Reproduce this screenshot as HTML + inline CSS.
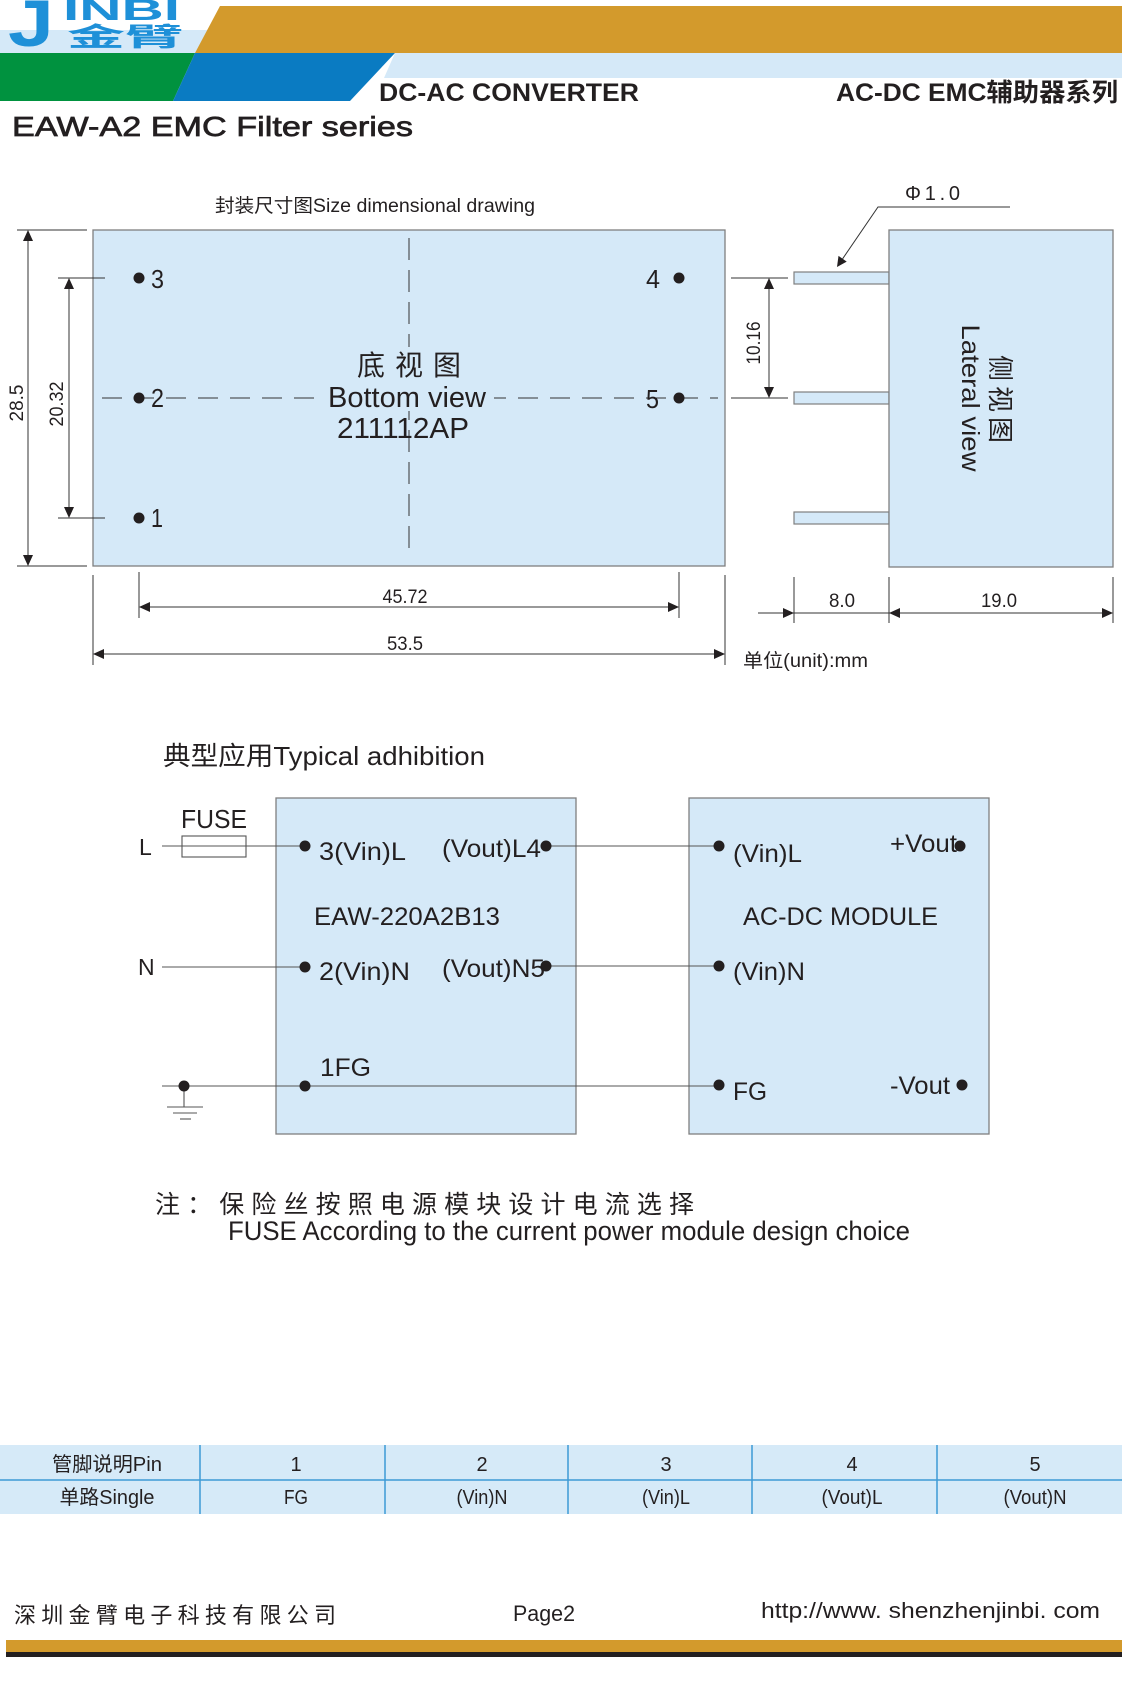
<!DOCTYPE html>
<html><head><meta charset="utf-8"><style>
html,body{margin:0;padding:0;background:#fff;}
svg{display:block;}
text{font-family:"Liberation Sans","Noto Sans CJK SC",sans-serif;fill:#231f20;}
</style></head><body>
<svg width="1122" height="1693" viewBox="0 0 1122 1693" xmlns="http://www.w3.org/2000/svg">
<rect x="0" y="0" width="1122" height="1693" fill="#fff"/>
<!-- Header -->
<rect x="0" y="30" width="230" height="23" fill="#d5e9f8"/>
<polygon points="220,6 1122,6 1122,53 195,53" fill="#d39a2c"/>
<polygon points="0,53 195,53 173,101 0,101" fill="#00923f"/>
<polygon points="195,53 395,53 350,101 173,101" fill="#0a7bc2"/>
<polygon points="395,53 1122,53 1122,78 384,78" fill="#d5e9f8"/>
<text x="8" y="46" font-size="66" font-weight="bold" textLength="46" lengthAdjust="spacingAndGlyphs" style="fill:#1e90d8">J</text>
<text x="63" y="20" font-size="30" font-weight="bold" textLength="117" lengthAdjust="spacingAndGlyphs" style="fill:#1e90d8">INBI</text>
<text x="67" y="46" font-size="26" font-weight="bold" textLength="116" lengthAdjust="spacingAndGlyphs" style="fill:#1e90d8">金臂</text>
<text x="379" y="101" font-size="25" font-weight="bold" textLength="260" lengthAdjust="spacingAndGlyphs">DC-AC CONVERTER</text>
<text x="836" y="101" font-size="25" font-weight="bold" textLength="282" lengthAdjust="spacingAndGlyphs">AC-DC EMC辅助器系列</text>
<text x="12" y="136" font-size="28" textLength="401" lengthAdjust="spacingAndGlyphs" stroke="#231f20" stroke-width="0.7">EAW-A2 EMC Filter series</text>

<!-- Size drawing title -->
<text x="215" y="212" font-size="19" textLength="320" lengthAdjust="spacingAndGlyphs">封装尺寸图Size dimensional drawing</text>

<!-- Main bottom view -->
<rect x="93" y="230" width="632" height="336" fill="#d5e9f8" stroke="#7f7f7f" stroke-width="1.3"/>
<g stroke="#333" stroke-width="1" fill="none">
<line x1="102" y1="398" x2="718" y2="398" stroke-dasharray="20 12"/>
<line x1="409" y1="238" x2="409" y2="558" stroke-dasharray="22 10"/>
</g>
<rect x="322" y="347" width="172" height="64" fill="#d5e9f8"/>
<text x="409" y="375" font-size="28" text-anchor="middle" textLength="104" lengthAdjust="spacing">底视图</text>
<text x="328" y="407" font-size="29" textLength="158" lengthAdjust="spacingAndGlyphs">Bottom view</text>
<text x="337" y="438" font-size="29" textLength="132" lengthAdjust="spacingAndGlyphs">211112AP</text>
<g fill="#231f20">
<circle cx="139" cy="278" r="5.5"/><circle cx="139" cy="398" r="5.5"/><circle cx="139" cy="518" r="5.5"/>
<circle cx="679" cy="278" r="5.5"/><circle cx="679" cy="398" r="5.5"/>
</g>
<text x="151" y="288" font-size="26" textLength="13" lengthAdjust="spacingAndGlyphs">3</text>
<text x="151" y="407" font-size="26" textLength="13" lengthAdjust="spacingAndGlyphs">2</text>
<text x="151" y="527" font-size="26" textLength="12" lengthAdjust="spacingAndGlyphs">1</text>
<text x="646" y="288" font-size="26" textLength="14" lengthAdjust="spacingAndGlyphs">4</text>
<text x="646" y="408" font-size="26" textLength="13" lengthAdjust="spacingAndGlyphs">5</text>

<!-- dimension lines -->
<g stroke="#333" stroke-width="1" fill="none">
<line x1="17" y1="230" x2="87" y2="230"/><line x1="17" y1="566" x2="87" y2="566"/>
<line x1="58" y1="278" x2="105" y2="278"/><line x1="58" y1="518" x2="105" y2="518"/>
<line x1="28" y1="232" x2="28" y2="564"/>
<line x1="69" y1="280" x2="69" y2="516"/>
<line x1="731" y1="278" x2="788" y2="278"/><line x1="731" y1="398" x2="788" y2="398"/>
<line x1="769" y1="280" x2="769" y2="396"/>
<line x1="93" y1="575" x2="93" y2="665"/><line x1="725" y1="575" x2="725" y2="665"/>
<line x1="139" y1="572" x2="139" y2="618"/><line x1="679" y1="572" x2="679" y2="618"/>
<line x1="141" y1="607" x2="677" y2="607"/>
<line x1="95" y1="654" x2="723" y2="654"/>
<line x1="794" y1="577" x2="794" y2="623"/><line x1="889" y1="577" x2="889" y2="623"/><line x1="1113" y1="577" x2="1113" y2="623"/>
<line x1="758" y1="613" x2="1111" y2="613"/>
<polyline points="1010,207 878,207 842.6,258.8"/>
</g>
<g fill="#231f20">
<polygon points="28,230 23,241 33,241"/><polygon points="28,566 23,555 33,555"/>
<polygon points="69,278 64,289 74,289"/><polygon points="69,518 64,507 74,507"/>
<polygon points="769,278 764,289 774,289"/><polygon points="769,398 764,387 774,387"/>
<polygon points="139,607 150,602 150,612"/><polygon points="679,607 668,602 668,612"/>
<polygon points="93,654 104,649 104,659"/><polygon points="725,654 714,649 714,659"/>
<polygon points="794,613 783,608 783,618"/>
<polygon points="889,613 900,608 900,618"/><polygon points="1113,613 1102,608 1102,618"/>
<polygon points="837,267 846.7,261.6 838.5,255.9"/>
</g>
<text transform="translate(23,403) rotate(-90)" font-size="19" text-anchor="middle">28.5</text>
<text transform="translate(63,404) rotate(-90)" font-size="19" text-anchor="middle" textLength="45" lengthAdjust="spacingAndGlyphs">20.32</text>
<text transform="translate(760,343) rotate(-90)" font-size="19" text-anchor="middle" textLength="43" lengthAdjust="spacingAndGlyphs">10.16</text>
<text x="405" y="603" font-size="19" text-anchor="middle" textLength="45" lengthAdjust="spacingAndGlyphs">45.72</text>
<text x="405" y="650" font-size="19" text-anchor="middle" textLength="36" lengthAdjust="spacingAndGlyphs">53.5</text>
<text x="842" y="607" font-size="19" text-anchor="middle" textLength="26" lengthAdjust="spacingAndGlyphs">8.0</text>
<text x="999" y="607" font-size="19" text-anchor="middle" textLength="36" lengthAdjust="spacingAndGlyphs">19.0</text>
<text x="905" y="200" font-size="20" textLength="55" lengthAdjust="spacing">Φ1.0</text>
<text x="743" y="667" font-size="19" textLength="125" lengthAdjust="spacingAndGlyphs">单位(unit):mm</text>

<!-- Lateral view -->
<g fill="#d5e9f8" stroke="#7f7f7f" stroke-width="1.2">
<rect x="794" y="272" width="95" height="12"/>
<rect x="794" y="392" width="95" height="12"/>
<rect x="794" y="512" width="95" height="12"/>
<rect x="889" y="230" width="224" height="337" stroke-width="1.3"/>
</g>
<text transform="translate(962,398) rotate(90)" font-size="25" text-anchor="middle" textLength="147" lengthAdjust="spacingAndGlyphs">Lateral view</text>
<text transform="translate(991,399) rotate(90)" font-size="26" text-anchor="middle" textLength="88" lengthAdjust="spacing">侧视图</text>

<!-- Typical application -->
<text x="163" y="765" font-size="26" textLength="322" lengthAdjust="spacingAndGlyphs">典型应用Typical adhibition</text>
<rect x="276" y="798" width="300" height="336" fill="#d5e9f8" stroke="#7f7f7f" stroke-width="1.3"/>
<rect x="689" y="798" width="300" height="336" fill="#d5e9f8" stroke="#7f7f7f" stroke-width="1.3"/>
<g stroke="#555" stroke-width="1.1" fill="none">
<line x1="162" y1="846" x2="305" y2="846"/>
<line x1="546" y1="846" x2="719" y2="846"/>
<line x1="162" y1="967" x2="305" y2="967"/>
<line x1="546" y1="966" x2="719" y2="966"/>
<line x1="162" y1="1086" x2="719" y2="1086"/>
<rect x="182" y="836" width="64" height="21"/>
<line x1="184" y1="1086" x2="184" y2="1107"/>
<line x1="167" y1="1107" x2="203" y2="1107"/>
<line x1="173" y1="1113" x2="197" y2="1113"/>
<line x1="180" y1="1119" x2="191" y2="1119"/>
</g>
<g fill="#231f20">
<circle cx="305" cy="846" r="5.5"/><circle cx="305" cy="967" r="5.5"/><circle cx="305" cy="1086" r="5.5"/>
<circle cx="546" cy="846" r="5.5"/><circle cx="546" cy="966" r="5.5"/>
<circle cx="184" cy="1086" r="5.5"/>
<circle cx="719" cy="846" r="5.5"/><circle cx="719" cy="966" r="5.5"/><circle cx="719" cy="1085" r="5.5"/>
<circle cx="960" cy="846" r="5.5"/><circle cx="962" cy="1085" r="5.5"/>
</g>
<text x="181" y="828" font-size="26" textLength="66" lengthAdjust="spacingAndGlyphs">FUSE</text>
<text x="139" y="855" font-size="23">L</text>
<text x="138" y="975" font-size="23">N</text>
<text x="319" y="860" font-size="25" textLength="87" lengthAdjust="spacingAndGlyphs">3(Vin)L</text>
<text x="442" y="857" font-size="25" textLength="99" lengthAdjust="spacingAndGlyphs">(Vout)L4</text>
<text x="314" y="925" font-size="25" textLength="186" lengthAdjust="spacingAndGlyphs">EAW-220A2B13</text>
<text x="319" y="980" font-size="25" textLength="91" lengthAdjust="spacingAndGlyphs">2(Vin)N</text>
<text x="442" y="977" font-size="25" textLength="103" lengthAdjust="spacingAndGlyphs">(Vout)N5</text>
<text x="320" y="1076" font-size="25" textLength="51" lengthAdjust="spacingAndGlyphs">1FG</text>
<text x="733" y="862" font-size="25" textLength="69" lengthAdjust="spacingAndGlyphs">(Vin)L</text>
<text x="890" y="852" font-size="25" textLength="67" lengthAdjust="spacingAndGlyphs">+Vout</text>
<text x="743" y="925" font-size="25" textLength="195" lengthAdjust="spacingAndGlyphs">AC-DC MODULE</text>
<text x="733" y="980" font-size="25" textLength="72" lengthAdjust="spacingAndGlyphs">(Vin)N</text>
<text x="733" y="1100" font-size="25" textLength="34" lengthAdjust="spacingAndGlyphs">FG</text>
<text x="890" y="1094" font-size="25" textLength="60" lengthAdjust="spacingAndGlyphs">-Vout</text>

<!-- Note -->
<text x="155" y="1213" font-size="25" textLength="539" lengthAdjust="spacing">注：保险丝按照电源模块设计电流选择</text>
<text x="228" y="1240" font-size="27" textLength="682" lengthAdjust="spacingAndGlyphs">FUSE According to the current power module design choice</text>

<!-- Table -->
<rect x="0" y="1445" width="1122" height="69" fill="#d6eaf8"/>
<g stroke="#3d9ad6" stroke-width="1.5">
<line x1="0" y1="1480" x2="1122" y2="1480"/>
<line x1="200" y1="1445" x2="200" y2="1514"/>
<line x1="385" y1="1445" x2="385" y2="1514"/>
<line x1="568" y1="1445" x2="568" y2="1514"/>
<line x1="752" y1="1445" x2="752" y2="1514"/>
<line x1="937" y1="1445" x2="937" y2="1514"/>
</g>
<g font-size="20" text-anchor="middle">
<text x="107" y="1471" textLength="110" lengthAdjust="spacingAndGlyphs">管脚说明Pin</text>
<text x="107" y="1504" textLength="95" lengthAdjust="spacingAndGlyphs">单路Single</text>
<text x="296" y="1471">1</text>
<text x="482" y="1471">2</text>
<text x="666" y="1471">3</text>
<text x="852" y="1471">4</text>
<text x="1035" y="1471">5</text>
<text x="296" y="1504" textLength="24" lengthAdjust="spacingAndGlyphs">FG</text>
<text x="482" y="1504" textLength="51" lengthAdjust="spacingAndGlyphs">(Vin)N</text>
<text x="666" y="1504" textLength="48" lengthAdjust="spacingAndGlyphs">(Vin)L</text>
<text x="852" y="1504" textLength="61" lengthAdjust="spacingAndGlyphs">(Vout)L</text>
<text x="1035" y="1504" textLength="63" lengthAdjust="spacingAndGlyphs">(Vout)N</text>
</g>

<!-- Footer -->
<text x="14" y="1623" font-size="22" textLength="322" lengthAdjust="spacing">深圳金臂电子科技有限公司</text>
<text x="513" y="1621" font-size="22" textLength="62" lengthAdjust="spacingAndGlyphs">Page2</text>
<text x="761" y="1618" font-size="22" textLength="339" lengthAdjust="spacingAndGlyphs">http://www. shenzhenjinbi. com</text>
<rect x="6" y="1640" width="1116" height="12" fill="#d39a2c"/>
<rect x="6" y="1652" width="1116" height="5" fill="#231f20"/>
</svg>
</body></html>
